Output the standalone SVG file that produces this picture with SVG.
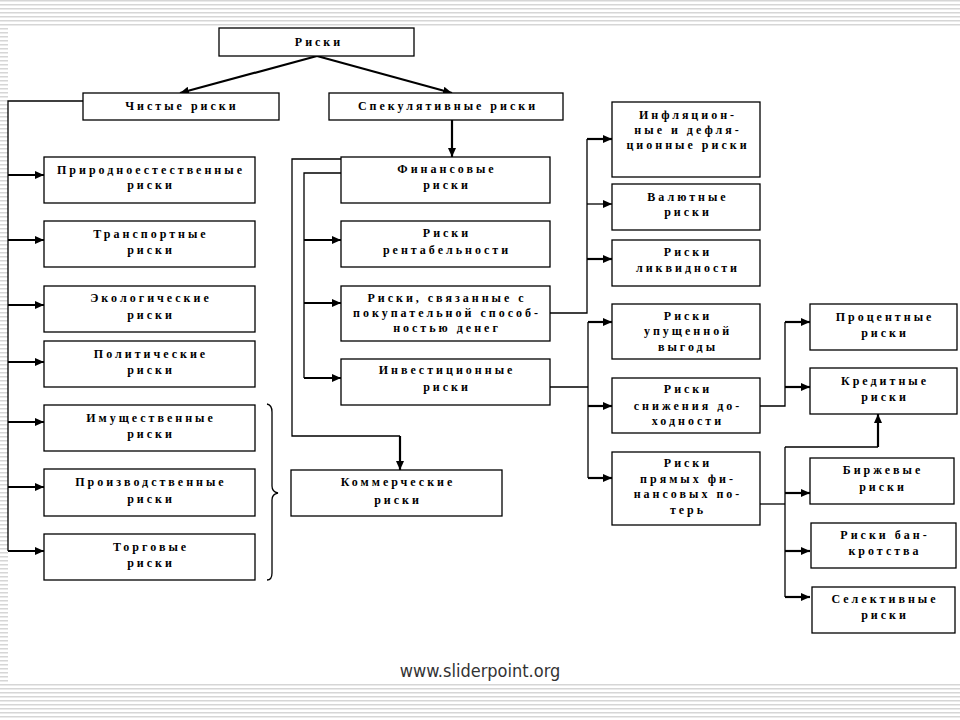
<svg xmlns="http://www.w3.org/2000/svg" width="960" height="720" viewBox="0 0 960 720">
<defs>
<pattern id="stripe" patternUnits="userSpaceOnUse" width="8" height="4">
<rect x="0" y="0" width="8" height="1.5" fill="#d6d6d6"/>
</pattern>
<marker id="ah" markerUnits="userSpaceOnUse" markerWidth="10" markerHeight="8" refX="9" refY="4" orient="auto">
<path d="M0,0 L9,4 L0,8 z" fill="#000"/>
</marker>
</defs>
<style>
.box{fill:#fff;stroke:#000;stroke-width:1.3}
.t{font-family:"Liberation Serif",serif;font-weight:bold;font-size:12px;letter-spacing:3px;text-anchor:middle;fill:#000}
.c{fill:none;stroke:#000;stroke-width:1.3}
.a{fill:none;stroke:#000;stroke-width:2.2;marker-end:url(#ah)}
.at{fill:none;stroke:#000;stroke-width:1.3;marker-end:url(#ah)}
</style>
<rect width="960" height="720" fill="#fff"/>
<rect x="0" y="0" width="960" height="26" fill="url(#stripe)"/>
<rect x="0" y="28" width="8" height="656" fill="url(#stripe)"/>
<rect x="0" y="684" width="960" height="36" fill="url(#stripe)"/>

<g id="connectors">
<path class="a" d="M317,56 L180,93"/>
<path class="a" d="M317,56 L452,93"/>
<path class="c" d="M83,101 H8 V551"/>
<path class="a" d="M8,175 H44"/>
<path class="a" d="M8,240 H44"/>
<path class="a" d="M8,305 H44"/>
<path class="a" d="M8,362 H44"/>
<path class="a" d="M8,422 H44"/>
<path class="a" d="M8,487 H44"/>
<path class="a" d="M8,551 H44"/>
<path class="c" d="M267,404 Q272,405 272,412 V486 Q272,492 278,493 Q272,494 272,500 V573 Q272,580 267,580"/>
<path class="a" d="M452,120 V157"/>
<path class="c" d="M341,159 H292 V436 H400"/>
<path class="a" d="M400,436 V470"/>
<path class="c" d="M341,173 H304 V378"/>
<path class="a" d="M304,240 H341"/>
<path class="a" d="M304,303 H341"/>
<path class="a" d="M304,378 H341"/>
<path class="c" d="M550,313 H587 V139"/>
<path class="a" d="M587,139 H612"/>
<path class="at" d="M587,204 H612"/>
<path class="a" d="M587,259 H612"/>
<path class="c" d="M550,387 H588"/>
<path class="c" d="M588,322 V478"/>
<path class="a" d="M588,322 H612"/>
<path class="a" d="M588,406 H612"/>
<path class="a" d="M588,478 H612"/>
<path class="c" d="M760,406 H785 V322"/>
<path class="a" d="M785,322 H810"/>
<path class="a" d="M785,387 H810"/>
<path class="c" d="M760,504 H785"/>
<path class="c" d="M785,447 V597"/>
<path class="c" d="M785,447 H878"/>
<path class="a" d="M878,447 V414"/>
<path class="a" d="M785,493 H810"/>
<path class="a" d="M785,551 H810"/>
<path class="a" d="M785,597 H810"/>
</g>

<g id="n-riski"><rect class="box" x="219" y="28" width="195" height="28"/><text class="t" x="319" y="46">Риски</text></g>
<g id="n-chistye"><rect class="box" x="83" y="93" width="196" height="27"/><text class="t" x="182" y="110">Чистые риски</text></g>
<g id="n-spekul"><rect class="box" x="329" y="93" width="234" height="27"/><text class="t" x="448" y="110">Спекулятивные риски</text></g>

<g id="n-prirod"><rect class="box" x="44" y="157" width="211" height="46"/><text class="t" x="151"><tspan x="151" y="174">Природноестественные</tspan><tspan x="151" y="189">риски</tspan></text></g>
<g id="n-transp"><rect class="box" x="44" y="221" width="211" height="46"/><text class="t" x="151"><tspan x="151" y="238">Транспортные</tspan><tspan x="151" y="254">риски</tspan></text></g>
<g id="n-ekolog"><rect class="box" x="44" y="286" width="211" height="46"/><text class="t" x="151"><tspan x="151" y="302">Экологические</tspan><tspan x="151" y="319">риски</tspan></text></g>
<g id="n-polit"><rect class="box" x="44" y="341" width="211" height="46"/><text class="t" x="151"><tspan x="151" y="358">Политические</tspan><tspan x="151" y="374">риски</tspan></text></g>
<g id="n-imush"><rect class="box" x="44" y="405" width="211" height="46"/><text class="t" x="151"><tspan x="151" y="422">Имущественные</tspan><tspan x="151" y="438">риски</tspan></text></g>
<g id="n-proizv"><rect class="box" x="44" y="469" width="211" height="47"/><text class="t" x="151"><tspan x="151" y="486">Производственные</tspan><tspan x="151" y="503">риски</tspan></text></g>
<g id="n-torg"><rect class="box" x="44" y="534" width="211" height="46"/><text class="t" x="151"><tspan x="151" y="551">Торговые</tspan><tspan x="151" y="567">риски</tspan></text></g>

<g id="n-finans"><rect class="box" x="341" y="157" width="209" height="46"/><text class="t" x="447"><tspan x="447" y="173">Финансовые</tspan><tspan x="447" y="189">риски</tspan></text></g>
<g id="n-rentab"><rect class="box" x="341" y="221" width="209" height="46"/><text class="t" x="447"><tspan x="447" y="237">Риски</tspan><tspan x="447" y="254">рентабельности</tspan></text></g>
<g id="n-pokup"><rect class="box" x="341" y="286" width="209" height="55"/><text class="t" x="447"><tspan x="447" y="302">Риски, связанные с</tspan><tspan x="447" y="317">покупательной способ-</tspan><tspan x="447" y="332">ностью денег</tspan></text></g>
<g id="n-invest"><rect class="box" x="341" y="359" width="209" height="46"/><text class="t" x="447"><tspan x="447" y="374">Инвестиционные</tspan><tspan x="447" y="391">риски</tspan></text></g>
<g id="n-kommer"><rect class="box" x="291" y="470" width="211" height="46"/><text class="t" x="398"><tspan x="398" y="486">Коммерческие</tspan><tspan x="398" y="504">риски</tspan></text></g>

<g id="n-infl"><rect class="box" x="612" y="102" width="148" height="75"/><text class="t" x="688"><tspan x="688" y="119">Инфляцион-</tspan><tspan x="688" y="134">ные и дефля-</tspan><tspan x="688" y="149">ционные риски</tspan></text></g>
<g id="n-valut"><rect class="box" x="612" y="184" width="148" height="46"/><text class="t" x="688"><tspan x="688" y="201">Валютные</tspan><tspan x="688" y="216">риски</tspan></text></g>
<g id="n-likv"><rect class="box" x="612" y="240" width="148" height="46"/><text class="t" x="688"><tspan x="688" y="256">Риски</tspan><tspan x="688" y="272">ликвидности</tspan></text></g>
<g id="n-upush"><rect class="box" x="612" y="304" width="148" height="55"/><text class="t" x="688"><tspan x="688" y="320">Риски</tspan><tspan x="688" y="335">упущенной</tspan><tspan x="688" y="351">выгоды</tspan></text></g>
<g id="n-snizh"><rect class="box" x="612" y="378" width="148" height="55"/><text class="t" x="688"><tspan x="688" y="393">Риски</tspan><tspan x="688" y="410">снижения до-</tspan><tspan x="688" y="425">ходности</tspan></text></g>
<g id="n-pryam"><rect class="box" x="612" y="452" width="148" height="73"/><text class="t" x="688"><tspan x="688" y="467">Риски</tspan><tspan x="688" y="483">прямых фи-</tspan><tspan x="688" y="498">нансовых по-</tspan><tspan x="688" y="514">терь</tspan></text></g>

<g id="n-proc"><rect class="box" x="810" y="304" width="147" height="46"/><text class="t" x="885"><tspan x="885" y="321">Процентные</tspan><tspan x="885" y="337">риски</tspan></text></g>
<g id="n-kred"><rect class="box" x="810" y="368" width="147" height="46"/><text class="t" x="885"><tspan x="885" y="385">Кредитные</tspan><tspan x="885" y="401">риски</tspan></text></g>
<g id="n-birzh"><rect class="box" x="810" y="458" width="144" height="46"/><text class="t" x="883"><tspan x="883" y="474">Биржевые</tspan><tspan x="883" y="491">риски</tspan></text></g>
<g id="n-bankr"><rect class="box" x="811" y="523" width="145" height="45"/><text class="t" x="885"><tspan x="885" y="539">Риски бан-</tspan><tspan x="885" y="555">кротства</tspan></text></g>
<g id="n-selekt"><rect class="box" x="812" y="587" width="143" height="46"/><text class="t" x="885"><tspan x="885" y="603">Селективные</tspan><tspan x="885" y="619">риски</tspan></text></g>

<text x="480" y="677" font-family="'DejaVu Sans Condensed','DejaVu Sans',sans-serif" font-size="18" fill="#333" text-anchor="middle">www.sliderpoint.org</text>
</svg>
